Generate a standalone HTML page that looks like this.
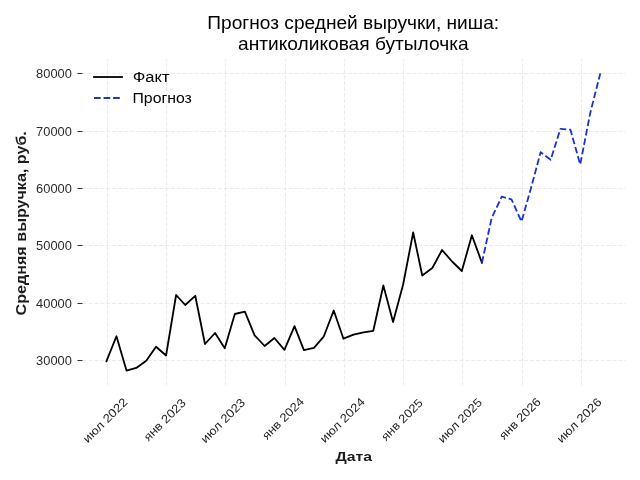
<!DOCTYPE html>
<html><head><meta charset="utf-8"><title>Прогноз средней выручки</title>
<style>html,body{margin:0;padding:0;background:#fff;width:640px;height:480px;overflow:hidden}
svg{display:block;will-change:transform} text{font-family:"Liberation Sans", sans-serif;white-space:pre}</style></head>
<body><svg width="640" height="480" viewBox="0 0 640 480">
<rect width="640" height="480" fill="#fff"/>
<path d="M107.5 385.5V59.5M166.5 385.5V59.5M225.5 385.5V59.5M285.5 385.5V59.5M344.5 385.5V59.5M403.5 385.5V59.5M462.5 385.5V59.5M522.5 385.5V59.5M581.5 385.5V59.5M82.5 360.5H625.5M82.5 303.5H625.5M82.5 245.5H625.5M82.5 188.5H625.5M82.5 131.5H625.5M82.5 73.5H625.5" fill="none" stroke="#ebebeb" stroke-width="1.111" stroke-dasharray="4.111 1.778"/>
<path d="M77.5 360.5H82.5M77.5 303.5H82.5M77.5 245.5H82.5M77.5 188.5H82.5M77.5 131.5H82.5M77.5 73.5H82.5" stroke="#333333" stroke-width="1.111"/>
<polyline points="106.40,361.30 116.45,336.25 126.50,370.60 136.23,367.90 146.28,360.80 156.01,346.70 166.07,355.50 176.12,295.00 185.20,305.00 195.25,295.80 204.98,344.00 215.04,333.00 224.77,348.30 234.82,314.00 244.87,311.60 254.60,335.40 264.65,346.00 274.38,338.00 284.44,349.90 294.49,326.10 303.89,350.10 313.95,347.85 323.68,336.70 333.73,310.50 343.46,338.70 353.51,334.70 363.57,332.40 373.29,330.80 383.35,285.50 393.08,322.00 403.13,284.50 413.18,232.50 422.26,275.50 432.32,268.00 442.05,250.00 452.10,261.50 461.83,271.00 471.88,235.25 481.94,262.80" fill="none" stroke="#000000" stroke-width="1.8056" stroke-linejoin="round" stroke-linecap="square"/>
<polyline points="481.94,262.80 491.66,218.00 501.72,196.70 511.45,199.30 521.50,221.60 531.55,186.00 540.63,152.20 550.69,159.70 560.42,128.80 570.47,129.70 580.20,164.50 590.25,113.00 600.30,73.40" fill="none" stroke="#1834cc" stroke-width="1.8056" stroke-linejoin="round" stroke-linecap="butt" stroke-dasharray="6.68 2.89"/>
<path d="M94.00 77H122.00" stroke="#000000" stroke-width="1.8056" stroke-linecap="square"/>
<path d="M94.00 98H122.00" stroke="#1f3caa" stroke-width="1.8056" stroke-linecap="butt" stroke-dasharray="6.68 2.89"/>
<text x="207.30" y="28.74" font-size="17.46" fill="#000000" textLength="291.80" lengthAdjust="spacingAndGlyphs">Прогноз средней выручки, ниша:</text>
<text x="238.03" y="49.57" font-size="17.46" fill="#000000" textLength="230.62" lengthAdjust="spacingAndGlyphs">антиколиковая бутылочка</text>
<text x="87.75" y="443.53" font-size="11.89" fill="#242424" textLength="57.41" lengthAdjust="spacingAndGlyphs" transform="rotate(-45 87.75 443.53)">июл 2022</text>
<text x="148.52" y="441.72" font-size="11.89" fill="#242424" textLength="53.85" lengthAdjust="spacingAndGlyphs" transform="rotate(-45 148.52 441.72)">янв 2023</text>
<text x="205.54" y="443.68" font-size="11.89" fill="#242424" textLength="57.16" lengthAdjust="spacingAndGlyphs" transform="rotate(-45 205.54 443.68)">июл 2023</text>
<text x="267.04" y="440.18" font-size="11.89" fill="#242424" textLength="53.61" lengthAdjust="spacingAndGlyphs" transform="rotate(-45 267.04 440.18)">янв 2024</text>
<text x="324.71" y="443.53" font-size="11.89" fill="#242424" textLength="57.93" lengthAdjust="spacingAndGlyphs" transform="rotate(-45 324.71 443.53)">июл 2024</text>
<text x="385.91" y="441.38" font-size="11.89" fill="#242424" textLength="53.47" lengthAdjust="spacingAndGlyphs" transform="rotate(-45 385.91 441.38)">янв 2025</text>
<text x="442.83" y="443.39" font-size="11.89" fill="#242424" textLength="56.80" lengthAdjust="spacingAndGlyphs" transform="rotate(-45 442.83 443.39)">июл 2025</text>
<text x="503.95" y="440.21" font-size="11.89" fill="#242424" textLength="53.23" lengthAdjust="spacingAndGlyphs" transform="rotate(-45 503.95 440.21)">янв 2026</text>
<text x="561.64" y="443.57" font-size="11.89" fill="#242424" textLength="57.54" lengthAdjust="spacingAndGlyphs" transform="rotate(-45 561.64 443.57)">июл 2026</text>
<text x="36.10" y="364.63" font-size="11.89" fill="#2b2b2b" textLength="35.75" lengthAdjust="spacingAndGlyphs">30000</text>
<text x="36.10" y="307.51" font-size="11.89" fill="#2b2b2b" textLength="35.75" lengthAdjust="spacingAndGlyphs">40000</text>
<text x="36.10" y="249.71" font-size="11.89" fill="#2b2b2b" textLength="35.75" lengthAdjust="spacingAndGlyphs">50000</text>
<text x="36.10" y="192.55" font-size="11.89" fill="#2b2b2b" textLength="35.75" lengthAdjust="spacingAndGlyphs">60000</text>
<text x="36.10" y="135.72" font-size="11.89" fill="#2b2b2b" textLength="35.75" lengthAdjust="spacingAndGlyphs">70000</text>
<text x="36.10" y="77.71" font-size="11.89" fill="#2b2b2b" textLength="35.75" lengthAdjust="spacingAndGlyphs">80000</text>
<text x="335.44" y="460.64" font-size="13.69" font-weight="bold" fill="#1c1c1c" textLength="36.55" lengthAdjust="spacingAndGlyphs">Дата</text>
<text x="26.34" y="315.43" font-size="13.81" font-weight="bold" fill="#1c1c1c" textLength="184.29" lengthAdjust="spacingAndGlyphs" transform="rotate(-90 26.34 315.43)">Средняя выручка, руб.</text>
<text x="132.77" y="81.62" font-size="13.89" fill="#000000" textLength="36.83" lengthAdjust="spacingAndGlyphs">Факт</text>
<text x="132.52" y="102.61" font-size="13.89" fill="#000000" textLength="59.26" lengthAdjust="spacingAndGlyphs">Прогноз</text>
</svg></body></html>
